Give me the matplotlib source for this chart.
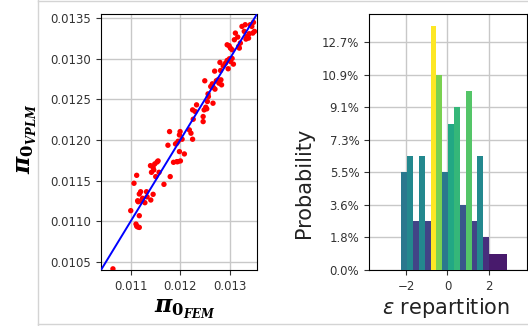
import numpy as np
import matplotlib
matplotlib.use("Agg")
import matplotlib.pyplot as plt
from matplotlib.lines import Line2D

plt.rcParams["mathtext.fontset"] = "custom"
plt.rcParams["mathtext.it"] = "DejaVu Serif:italic:bold"
plt.rcParams["mathtext.rm"] = "DejaVu Serif:bold"
plt.rcParams["mathtext.bf"] = "DejaVu Serif:bold"

# scatter: pi0 from FEM vs pi0 from VPLM
pi_fem = [
    0.010641, 0.011120, 0.011173, 0.011106, 0.011140, 0.011173, 0.011000, 0.011140,
    0.011206, 0.011286, 0.011239, 0.011405, 0.011173, 0.011200, 0.011319, 0.011452,
    0.011066, 0.011120, 0.011671, 0.011505, 0.011797, 0.011572, 0.011419, 0.011465,
    0.011399, 0.011485, 0.011532, 0.011552, 0.011452, 0.011751, 0.011904, 0.011930,
    0.011864, 0.011957, 0.011784, 0.011997, 0.011983, 0.012037, 0.011930, 0.011983,
    0.011950, 0.012003, 0.012083, 0.012183, 0.012216, 0.012249, 0.012249, 0.012302,
    0.012262, 0.012329, 0.012462, 0.012495, 0.012515, 0.012535, 0.012568, 0.012561,
    0.012615, 0.012648, 0.012668, 0.012701, 0.012728, 0.012761, 0.012781, 0.012834,
    0.012821, 0.012661, 0.012694, 0.012814, 0.012801, 0.012867, 0.012914, 0.012947,
    0.012993, 0.013013, 0.012967, 0.013073, 0.013047, 0.012947, 0.012987, 0.013013,
    0.013047, 0.013093, 0.013113, 0.013160, 0.013179, 0.013213, 0.013193, 0.013246,
    0.013292, 0.013312, 0.013346, 0.013392, 0.013412, 0.013445, 0.013478, 0.013465,
    0.013498, 0.013379, 0.013326, 0.012462, 0.012548, 0.012482, 0.011150, 0.011330,
]
pi_vplm = [
    0.010414, 0.010940, 0.010924, 0.010965, 0.010930, 0.011068, 0.011130, 0.011252,
    0.011249, 0.011228, 0.011282, 0.011261, 0.011335, 0.011363, 0.011363, 0.011331,
    0.011467, 0.011565, 0.011454, 0.011549, 0.011549, 0.011602, 0.011602, 0.011631,
    0.011684, 0.011705, 0.011729, 0.011742, 0.011664, 0.011935, 0.011951, 0.011733,
    0.011725, 0.011984, 0.012103, 0.012103, 0.012062, 0.012009, 0.011959, 0.011857,
    0.011733, 0.011742, 0.011828, 0.012124, 0.012083, 0.012009, 0.012370, 0.012350,
    0.012255, 0.012432, 0.012226, 0.012728, 0.012403, 0.012383, 0.012534, 0.012567,
    0.012658, 0.012691, 0.012646, 0.012625, 0.012728, 0.012740, 0.012699, 0.012678,
    0.012740, 0.012452, 0.012847, 0.012855, 0.012954, 0.012912, 0.012945, 0.012978,
    0.012999, 0.012966, 0.012876, 0.012933, 0.013003, 0.013171, 0.013159, 0.013130,
    0.013110, 0.013233, 0.013315, 0.013266, 0.013151, 0.013192, 0.013130, 0.013397,
    0.013336, 0.013418, 0.013274, 0.013307, 0.013418, 0.013397, 0.013447, 0.013315,
    0.013336, 0.013253, 0.013241, 0.012288, 0.012473, 0.012370, 0.011240, 0.011300,
]
lim = [0.0104, 0.01355]

# histogram of epsilon
bin_start = -2.24
bin_width = 0.284
counts = [6, 7, 3, 7, 3, 15, 12, 6, 9, 10, 4, 11, 3, 7, 2, 1, 1, 1]
n_samples = 110

fig = plt.figure(figsize=(5.28, 3.26), dpi=100)

ax1 = fig.add_axes([0.1913, 0.1718, 0.2955, 0.7853])
ax1.scatter(pi_fem, pi_vplm, s=15, c="red", edgecolors="none", zorder=3)
ax1.plot(lim, lim, color="blue", lw=1.4, zorder=4)
ax1.set_xlim(lim)
ax1.set_ylim(lim)
ax1.set_xticks([0.011, 0.012, 0.013])
ax1.set_yticks([0.0105, 0.0110, 0.0115, 0.0120, 0.0125, 0.0130, 0.0135])
ax1.set_xticklabels(["0.011", "0.012", "0.013"])
ax1.set_yticklabels(["%.4f" % v for v in ax1.get_yticks()])
ax1.tick_params(labelsize=8.5, colors="#333333")
ax1.grid(True, color="#c8c8c8", lw=1)
ax1.set_axisbelow(True)

ax2 = fig.add_axes([0.6989, 0.1718, 0.2992, 0.7853])
edges = bin_start + bin_width * np.arange(len(counts))
heights = np.array(counts) / n_samples * 100
cols = plt.cm.viridis(np.array(counts) / max(counts))
ax2.bar(edges, heights, width=bin_width, align="edge", color=cols, zorder=3)
ax2.set_xlim(-3.8, 3.85)
ax2.set_ylim(0, heights.max() * 1.05)
yt = np.arange(0, 15, 2) / n_samples * 100
ax2.set_yticks(yt)
ax2.set_yticklabels(["%.1f%%" % v for v in yt])
ax2.set_xticks([-2, 0, 2])
ax2.tick_params(labelsize=8.5, colors="#333333")
ax2.grid(True, color="#c8c8c8", lw=1)
ax2.set_axisbelow(True)

fig.text(0.35, 0.052, r"$\pi_{0_{FEM}}$", fontsize=17, ha="center", va="center")
fig.text(0.052, 0.575, r"$\pi_{0_{VPLM}}$", fontsize=17, ha="center", va="center",
         rotation=90)
fig.text(0.575, 0.44, "Probability", fontsize=15, ha="center", va="center", rotation=90,
         color="#222222")
fig.text(0.845, 0.055, r"$\varepsilon$ repartition", fontsize=15, ha="center",
         va="center", math_fontfamily="dejavusans", color="#222222")

# screenshot frame
fc = "#d4d4d4"
fig.add_artist(Line2D([38 / 528, 38 / 528], [0.0, 1.0], color=fc, lw=1))
fig.add_artist(Line2D([38 / 528, 1.0], [0.997, 0.997], color=fc, lw=1))
fig.add_artist(Line2D([38 / 528, 1.0], [0.006, 0.006], color=fc, lw=1))

fig.savefig("out.png", dpi=100)
